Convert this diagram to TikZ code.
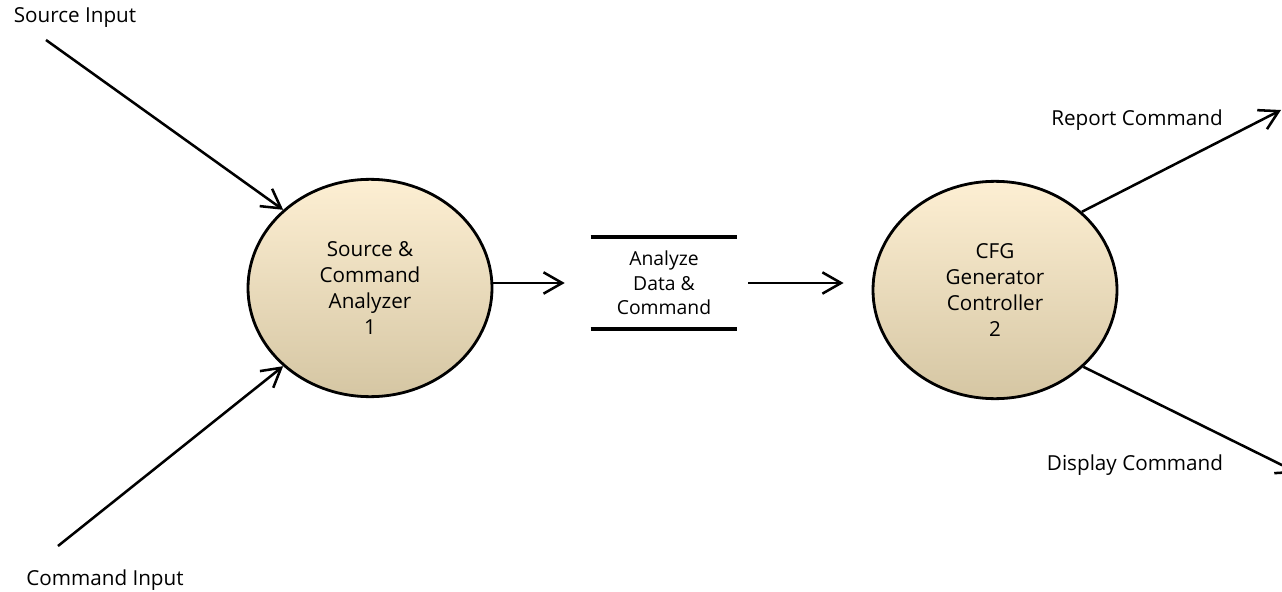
\documentclass[tikz,border=0pt]{standalone}
\usepackage{fontspec}
\setmainfont{Open Sans}
\usepackage{xcolor}
\usepackage{tikz}
\usetikzlibrary{arrows.meta,positioning,shapes.geometric,calc}

\definecolor{proctop}{RGB}{253,239,211}
\definecolor{procmid}{RGB}{245,237,218}
\definecolor{procbot}{RGB}{213,198,163}

\tikzset{
	process/.style={ellipse,draw=black,line width=2.1pt,minimum width=183pt,minimum height=163pt,inner sep=0pt,
		top color=proctop,middle color=procmid,bottom color=procbot,align=center,font=\fontsize{15.5}{19.5}\selectfont},
	flow/.style={line width=1.9pt,-{Straight Barb[length=14pt,width=16pt,line width=1.9pt]}},
	lbl/.style={font=\fontsize{15.5}{19}\selectfont,inner sep=0pt},
	storeline/.style={line width=3.2pt},
}

\begin{document}
\begin{tikzpicture}[x=0.75pt,y=-0.75pt]
	\useasboundingbox (0,0) rectangle (1282,592);
	% processes
	\node[process] (an) at (370,288) {Source \&\\Command\\Analyzer\\1};
	\node[process] (cg) at (995,290) {CFG\\Generator\\Controller\\2};
	% data store
	\node[inner sep=0pt,minimum width=109.5pt,minimum height=69pt,align=center,font=\fontsize{14.5}{18.5}\selectfont] (store) at (664,283) {Analyze\\Data \&\\Command};
	\draw[storeline] (store.north west) -- (store.north east);
	\draw[storeline] (store.south west) -- (store.south east);
	% labels
	\node[lbl] (srcin) at (75,18) {Source Input};
	\node[lbl] (cmdin) at (105,580) {Command Input};
	\node[lbl] (rep) at (1137,120) {Report Command};
	\node[lbl] (disp) at (1135,465) {Display Command};
	\coordinate (srcstart) at (46,40);
	\coordinate (cmdstart) at (58,546);
	\coordinate (repend) at (1281,110);
	\coordinate (dispend) at (1298,473);
	% flows
	\draw[flow] (srcstart) -- (an.138);
	\draw[flow] (cmdstart) -- (an.222);
	\draw[flow] (an.east |- store.west) -- ([xshift=-19.5pt]store.west);
	\draw[flow] ([xshift=8.25pt]store.east) -- ([xshift=-21pt]cg.west |- store.east);
	\draw[flow] (cg.42) -- (repend);
	\draw[flow] (cg.-41) -- (dispend);
\end{tikzpicture}
\end{document}
